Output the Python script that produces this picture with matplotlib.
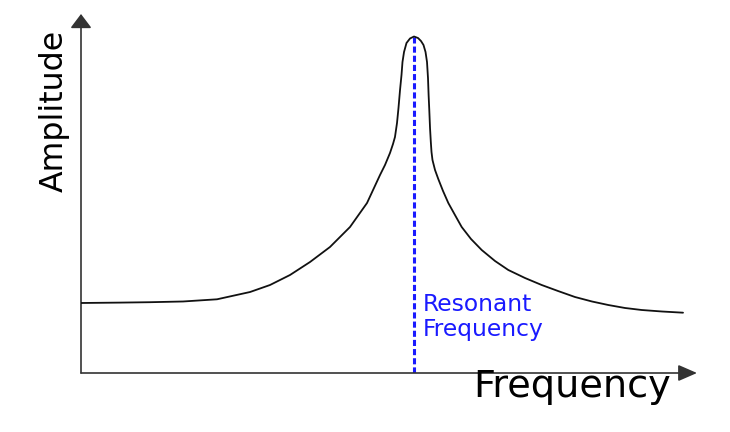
import matplotlib
matplotlib.use("Agg")
import matplotlib.pyplot as plt

# Response curve (frequency, amplitude) in arbitrary units (0-100)
frequency = [0, 6.33, 11.20, 16.56, 22.08, 27.44, 30.68, 33.93, 37.18, 40.42,
             43.67, 46.43, 48.54, 49.35, 50.16, 50.65, 50.97, 51.30, 51.54, 51.79,
             52.03, 52.19, 52.44, 52.84, 53.41, 54.06, 54.71, 55.19, 55.60, 55.93,
             56.17, 56.33, 56.43, 56.54, 56.66, 56.79, 56.90, 57.06, 57.47, 58.00,
             58.77, 59.63, 60.71, 61.80, 63.31, 65.05, 67.21, 69.37, 72.08, 74.79,
             77.44, 80.19, 82.95, 85.60, 88.31, 91.02, 94.32, 97.73]
amplitude = [19.50, 19.61, 19.72, 19.92, 20.53, 22.56, 24.51, 27.30, 30.92, 35.10,
             40.67, 47.35, 55.15, 57.94, 61.28, 63.79, 65.74, 69.64, 73.82, 78.83,
             83.01, 86.63, 89.42, 91.92, 93.18, 93.73, 93.31, 92.48, 91.37, 89.42,
             86.63, 82.17, 77.44, 73.26, 68.25, 64.35, 61.56, 59.33, 56.55, 54.04,
             50.70, 47.35, 44.01, 40.67, 37.33, 34.26, 31.20, 28.69, 26.46, 24.51,
             22.84, 21.17, 19.92, 18.94, 18.11, 17.55, 17.13, 16.80]
resonant_frequency = 54.06
resonant_amplitude = 93.73

x_label = "Frequency"
y_label = "Amplitude"
resonance_label = "Resonant\nFrequency"

W, H = 730, 432
fig = plt.figure(figsize=(W / 100, H / 100), dpi=100)
fig.patch.set_facecolor("white")
ax = fig.add_axes([81 / W, (H - 373) / H, 616 / W, 359 / H])
ax.set_xlim(0, 100)
ax.set_ylim(0, 100)
ax.axis("off")

axis_color = "#333333"
# axes with arrows
ax.annotate("", xy=(0, 1), xytext=(0, 0), xycoords="axes fraction",
            arrowprops=dict(arrowstyle="-|>,head_length=0.86,head_width=0.65",
                            mutation_scale=10, color=axis_color, lw=1.2,
                            shrinkA=0, shrinkB=0))
ax.annotate("", xy=(1, 0), xytext=(0, 0), xycoords="axes fraction",
            arrowprops=dict(arrowstyle="-|>,head_length=1.15,head_width=0.5",
                            mutation_scale=10, color=axis_color, lw=1.2,
                            shrinkA=0, shrinkB=0))

blue = "#1a1aff"
ax.vlines(resonant_frequency, 0, resonant_amplitude, colors=blue, lw=2.2,
          linestyles=(0, (2, 1)), zorder=2)
ax.plot(frequency, amplitude, color="#111111", lw=1.3, zorder=3,
        solid_joinstyle="round", solid_capstyle="round")

fam = ["DejaVu Sans"]
ax.text(resonant_frequency + 1.4, 22.3, resonance_label, color=blue,
        fontsize=16.8, ha="left", va="top", linespacing=1.12, family=fam)

fig.text(572 / W, 1 - 397 / H, x_label, fontsize=27.5, ha="center",
         va="baseline", color="black", family=fam)
fig.text(54 / W, 1 - 111 / H, y_label, fontsize=22.8, rotation=90,
         ha="center", va="center", color="black", family=fam)

fig.savefig("out.png", dpi=100, facecolor="white")
